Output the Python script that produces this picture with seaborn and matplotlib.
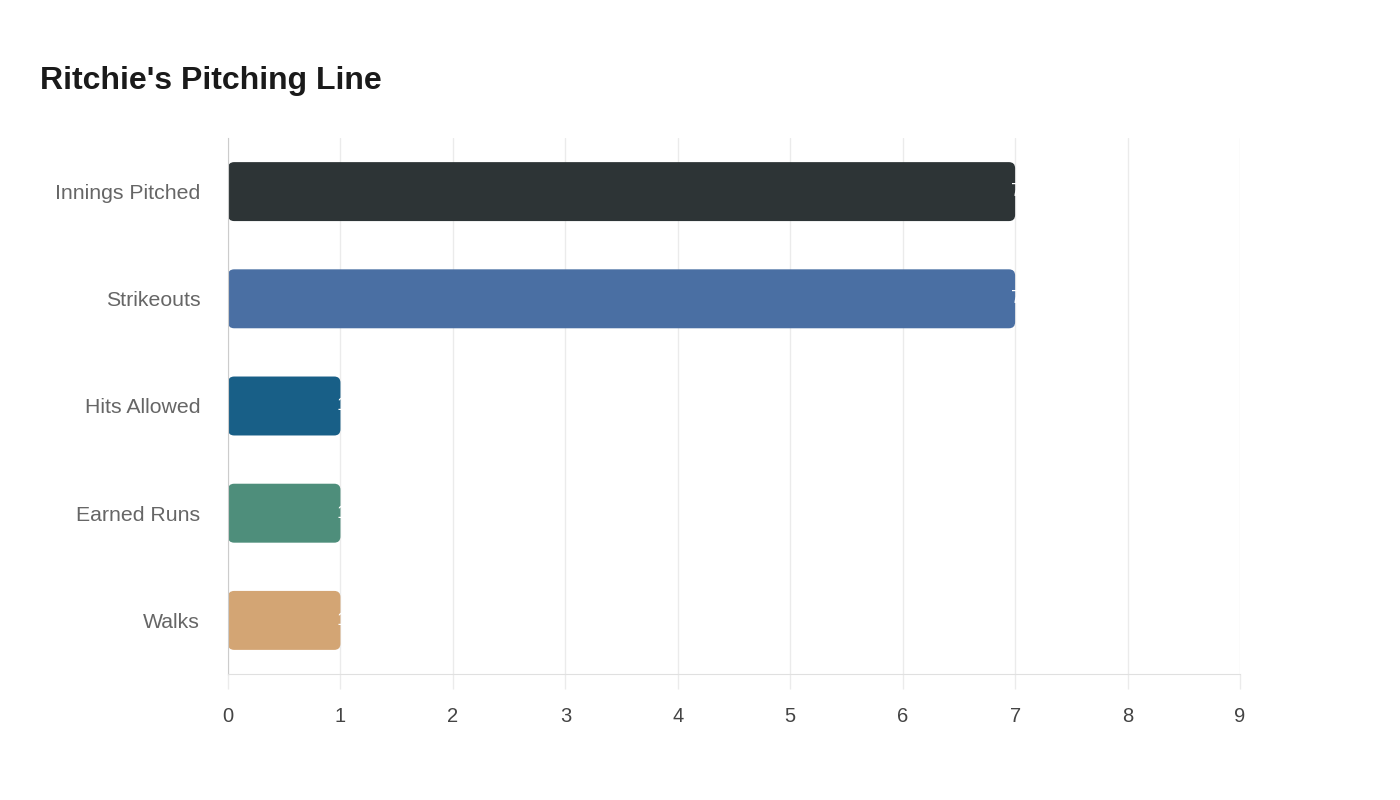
import pandas as pd
import matplotlib.pyplot as plt
import seaborn as sns
from matplotlib.patches import FancyBboxPatch

# chart data
stats = ['Innings Pitched', 'Strikeouts', 'Hits Allowed', 'Earned Runs', 'Walks']
values = [7, 7, 1, 1, 1]
bar_colors = ['#2d3436', '#4a6fa3', '#185f87', '#4e8e7b', '#d3a574']
x_ticks = list(range(0, 10))

df = pd.DataFrame({'stat': stats, 'value': values})

sns.set_style('white')
plt.rcParams['font.family'] = ['Liberation Sans', 'DejaVu Sans']

fig = plt.figure(figsize=(14, 8), dpi=100)
ax = fig.add_axes([228 / 1400, 126 / 800, 1012 / 1400, 536 / 800])

sns.barplot(data=df, x='value', y='stat', hue='stat', palette=bar_colors,
            orient='h', width=0.55, saturation=1, legend=False, ax=ax)

# swap the plain bars for rounded ones
for p in list(ax.patches):
    x0, y0 = p.get_x(), p.get_y()
    w, h = p.get_width(), p.get_height()
    fc = p.get_facecolor()
    p.remove()
    ax.add_patch(FancyBboxPatch((x0, y0), w, h,
                                boxstyle='round,pad=0,rounding_size=0.055',
                                mutation_aspect=1.05, fc=fc, ec='none', zorder=2))

# white value labels at bar ends (mostly fall on white, as in the original)
for i, v in enumerate(values):
    ax.annotate(str(v), (v, i), xytext=(-3, 0), textcoords='offset points',
                ha='left', va='center', color='white', fontsize=14, zorder=3)

ax.set_xlim(0, 9)
ax.set_ylim(4.5, -0.5)
ax.set_xticks(x_ticks)
ax.xaxis.grid(True, color='#ebebeb', linewidth=1, zorder=0)
ax.set_axisbelow(True)

for s in ['top', 'right']:
    ax.spines[s].set_visible(False)
ax.spines['left'].set_color('#cccccc')
ax.spines['bottom'].set_color('#e0e0e0')

ax.tick_params(axis='x', bottom=True, length=10.8, width=1, color='#ebebeb', pad=13,
               labelsize=14.5, labelcolor='#444444')
ax.tick_params(axis='y', left=False, length=0, pad=20, labelsize=15.3, labelcolor='#666666')
ax.set_xlabel('')
ax.set_ylabel('')

fig.text(40 / 1400, 1 - 81 / 800, "Ritchie's Pitching Line", fontsize=23, fontweight='bold',
         color='#1a1a1a', va='center', ha='left')

fig.savefig('out.png', dpi=100, facecolor='white')
